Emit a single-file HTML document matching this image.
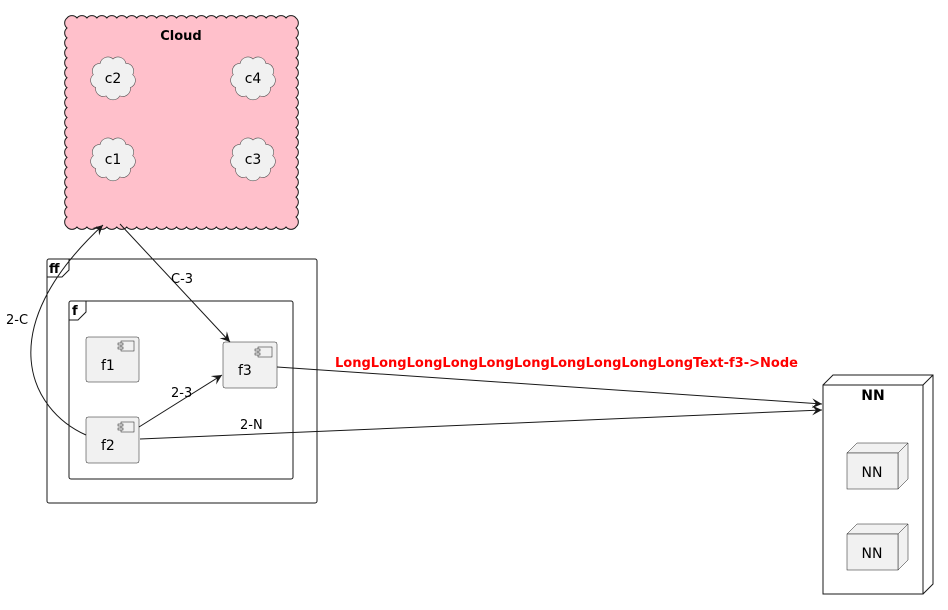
<!DOCTYPE html>
<html><head><meta charset="utf-8"><style>
html,body{margin:0;padding:0;background:#fff;}
svg{display:block;font-family:"DejaVu Sans","Liberation Sans",sans-serif;}
</style></head><body>
<svg id="s" width="948" height="610" viewBox="0 0 948 610" xmlns="http://www.w3.org/2000/svg">
<defs>
<marker id="a" markerWidth="12" markerHeight="10" refX="10" refY="5" orient="auto" markerUnits="userSpaceOnUse">
<path d="M0,0 L10,5 L0,10 L4,5 Z" fill="#181818"/></marker>
</defs>
<g id="clouds"></g>
<text x="181" y="40" font-size="13" font-weight="bold" text-anchor="middle">Cloud</text>
<text x="113" y="83" font-size="14" text-anchor="middle">c2</text>
<text x="253" y="83" font-size="14" text-anchor="middle">c4</text>
<text x="113" y="164" font-size="14" text-anchor="middle">c1</text>
<text x="253" y="164" font-size="14" text-anchor="middle">c3</text>

<rect x="47" y="259" width="270" height="244" rx="2" fill="none" stroke="#181818" stroke-width="1"/>
<path d="M47,277 L62,277 L69,270 L69,259" fill="none" stroke="#181818"/>
<text x="49" y="273" font-size="13" font-weight="bold">ff</text>
<rect x="69" y="301" width="224" height="178" rx="2" fill="none" stroke="#181818"/>
<path d="M69,320 L78,320 L86,312 L86,301" fill="none" stroke="#181818"/>
<text x="72" y="315" font-size="13" font-weight="bold">f</text>

<g fill="#f1f1f1" stroke="#181818" stroke-width="0.5">
<rect x="86" y="337" width="53" height="45" rx="2"/>
<rect x="223" y="342" width="54" height="46" rx="2"/>
<rect x="86" y="417" width="53" height="46" rx="2"/>
</g>
<g fill="#f1f1f1" stroke="#181818" stroke-width="0.5">
<rect x="121" y="341" width="13" height="10"/><rect x="118" y="343" width="5" height="2"/><rect x="118" y="347" width="5" height="2"/>
<rect x="258" y="347" width="14" height="10"/><rect x="255" y="349" width="5" height="2"/><rect x="255" y="353" width="5" height="2"/>
<rect x="121" y="422" width="13" height="10"/><rect x="118" y="424" width="5" height="2"/><rect x="118" y="428" width="5" height="2"/>
</g>
<text x="101" y="370" font-size="14">f1</text>
<text x="238" y="375" font-size="14">f3</text>
<text x="101" y="450" font-size="14">f2</text>

<path d="M823,385 L833,375 L933,375 L933,584 L923,594 M923,385 L933,375" fill="#fff" stroke="#181818"/>
<rect x="823" y="385" width="100" height="209" fill="#fff" stroke="#181818"/>
<text x="873" y="400" font-size="14" font-weight="bold" text-anchor="middle">NN</text>
<g fill="#f1f1f1" stroke="#181818" stroke-width="0.5">
<path d="M847,453 L857,443 L908,443 L908,479 L898,489 L898,453 Z M898,453 L908,443"/>
<rect x="847" y="453" width="51" height="36"/>
<path d="M847,534 L857,524 L908,524 L908,560 L898,570 L898,534 Z M898,534 L908,524"/>
<rect x="847" y="534" width="51" height="36"/>
</g>
<text x="872" y="477" font-size="14" text-anchor="middle">NN</text>
<text x="872" y="558" font-size="14" text-anchor="middle">NN</text>

<g fill="none" stroke="#181818" stroke-width="1">
<path d="M120,224 L230,342" marker-end="url(#a)"/>
<path d="M86,435 C30,410 -10,330 103,225" marker-end="url(#a)"/>
<path d="M139,427 L222,375" marker-end="url(#a)"/>
<path d="M140,439 L822,410" marker-end="url(#a)"/>
<path d="M277,367 L822,404" marker-end="url(#a)"/>
</g>
<text x="171" y="283" font-size="13">C-3</text>
<text x="6" y="324" font-size="13">2-C</text>
<text x="171" y="397" font-size="13">2-3</text>
<text x="240" y="429" font-size="13">2-N</text>
<text x="335" y="367" font-size="13" font-weight="bold" fill="#ff0000" textLength="463" lengthAdjust="spacingAndGlyphs">LongLongLongLongLongLongLongLongLongLongText-f3-&gt;Node</text>
</svg>
<script>
(function(){
function scallop(x,y,w,h,step,r){
  var pts=[],i,n;
  n=Math.max(2,Math.round(w/step));for(i=0;i<=n;i++)pts.push([x+w*i/n,y]);
  n=Math.max(2,Math.round(h/step));for(i=1;i<=n;i++)pts.push([x+w,y+h*i/n]);
  n=Math.max(2,Math.round(w/step));for(i=1;i<=n;i++)pts.push([x+w-w*i/n,y+h]);
  n=Math.max(2,Math.round(h/step));for(i=1;i<n;i++)pts.push([x,y+h-h*i/n]);
  var d="M"+pts[0][0]+","+pts[0][1];
  for(i=1;i<=pts.length;i++){var p=pts[i%pts.length],q=pts[i-1];
    var rr=Math.hypot(p[0]-q[0],p[1]-q[1])/2*r;
    d+=" A"+rr+","+rr+" 0 0 1 "+p[0]+","+p[1];}
  return d+"Z";
}
function blob(cx,cy,rx,ry,n){
  var d="",i;
  for(i=0;i<=n;i++){var t=2*Math.PI*i/n-Math.PI/2;var x=cx+rx*Math.cos(t),y=cy+ry*Math.sin(t);
    if(i==0)d="M"+x.toFixed(2)+","+y.toFixed(2);
    else{var q=2*Math.PI*(i-1)/n-Math.PI/2;var c=Math.hypot(x-(cx+rx*Math.cos(q)),y-(cy+ry*Math.sin(q)))/2*1.15;
      d+=" A"+c.toFixed(2)+","+c.toFixed(2)+" 0 0 1 "+x.toFixed(2)+","+y.toFixed(2);}}
  return d+"Z";
}
var g=document.getElementById("clouds"),ns="http://www.w3.org/2000/svg";
function add(d,fill,sw,stroke){var p=document.createElementNS(ns,"path");p.setAttribute("d",d);p.setAttribute("fill",fill);p.setAttribute("stroke",stroke);p.setAttribute("stroke-width",sw);g.appendChild(p);}
add(scallop(67,18,229,209,10,1.3),"#ffc0cb",1,"#181818");
[[113,78],[253,78],[113,159],[253,159]].forEach(function(c){
  add(blob(c[0],c[1],20,19,9),"#f1f1f1",0.6,"#555");
});
})();
</script>
</body></html>
